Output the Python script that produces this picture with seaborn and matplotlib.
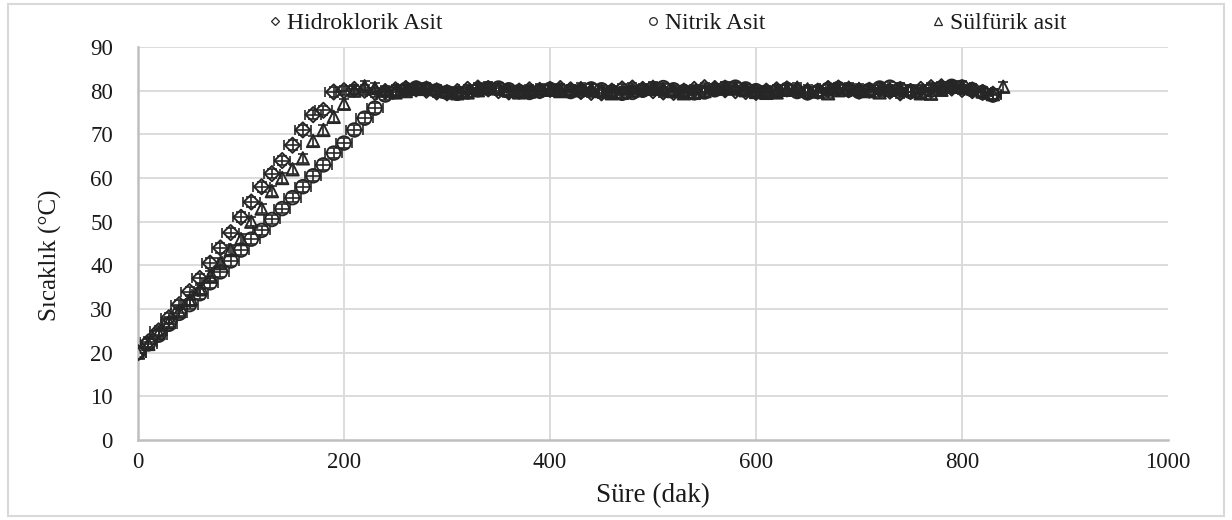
import numpy as np
import pandas as pd
import matplotlib
matplotlib.use("Agg")
import matplotlib.pyplot as plt
from matplotlib.lines import Line2D
from matplotlib.patches import Rectangle
import seaborn as sns

# Sampling times (dak), one reading every 10 minutes
sure_hcl = list(range(0, 840, 10))
sure_nitrik = list(range(0, 840, 10))
sure_sulfurik = list(range(0, 850, 10))

# Temperature readings (°C)
hidroklorik = [
    20, 22.5, 25, 28, 31, 34, 37, 40.5, 44, 47.5,
    51, 54.5, 58, 61, 64, 67.5, 71, 74.5, 75.5, 79.7,
    80.0, 80.3, 80.1, 79.6, 79.8, 80.2, 80.5, 80.4, 80.1, 79.7,
    79.5, 79.8, 80.3, 80.6, 80.4, 80.0, 79.7, 79.9, 80.2, 80.0,
    80.3, 80.5, 80.2, 79.8, 79.6, 79.5, 79.9, 80.4, 80.6, 80.3,
    80.0, 79.7, 79.6, 79.9, 80.3, 80.7, 80.5, 80.2, 80.0, 79.8,
    79.6, 79.9, 80.2, 80.4, 80.1, 79.7, 79.9, 80.5, 80.6, 80.2,
    79.9, 80.1, 80.3, 79.9, 79.5, 79.8, 80.3, 80.7, 80.9, 80.6,
    80.3, 80.0, 79.6, 79.2,
]
nitrik = [
    20, 22, 24, 26.5, 29, 31, 33.5, 36, 38.5, 41,
    43.5, 46, 48, 50.5, 53, 55.5, 58, 60.5, 63, 65.7,
    68, 71, 73.7, 76, 79,
    79.8, 80.3, 80.6, 80.4, 80.0, 79.6, 79.4, 79.7, 80.2, 80.5,
    80.6, 80.2, 79.8, 79.6, 79.9, 80.3, 80.1, 79.8, 80.0, 80.4,
    80.2, 79.7, 79.4, 79.6, 80.1, 80.5, 80.7, 80.2, 79.8, 79.5,
    79.7, 80.2, 80.6, 80.8, 80.4, 80.0, 79.7, 79.9, 80.3, 79.8,
    79.5, 79.8, 80.3, 80.5, 80.2, 79.8, 80.1, 80.6, 80.8, 80.3,
    79.8, 79.6, 80.1, 80.6, 81.0, 80.8, 80.2, 79.6, 79.0,
]
sulfurik = [
    20, 22, 24.5, 27, 29.5, 32, 34.5, 37.5, 40.5, 43.5,
    46, 50, 53, 57, 60, 62, 64.5, 68.5, 71, 74, 77,
    80.0, 81.0, 80.6, 80.0, 79.6, 79.9, 80.4, 80.7, 80.3, 79.8,
    79.4, 79.6, 80.1, 80.8, 80.5, 80.0, 79.6, 79.8, 80.4, 80.2,
    79.9, 80.1, 80.6, 80.4, 79.9, 79.4, 79.5, 80.0, 80.5, 80.9,
    80.4, 79.9, 79.4, 79.5, 79.9, 80.5, 80.9, 80.6, 80.1, 79.7,
    79.5, 79.6, 80.2, 80.7, 80.3, 79.8, 79.4, 80.1, 80.7, 80.4,
    79.9, 79.6, 80.2, 80.6, 80.1, 79.4, 79.3, 80.2, 80.9, 81.0,
    80.5, 79.8, 79.2, 80.9,
]

# Measurement uncertainty (°C for y, dak for x)
hata_y = 1.1
hata_x = 8

etiketler = ["Hidroklorik Asit", "Nitrik Asit", "Sülfürik asit"]
x_ticks = [0, 200, 400, 600, 800, 1000]
y_ticks = [0, 10, 20, 30, 40, 50, 60, 70, 80, 90]

sns.set_theme(style="whitegrid")
plt.rcParams["font.family"] = ["Liberation Serif", "DejaVu Serif"]

W, H = 1232, 520
fig = plt.figure(figsize=(W / 100, H / 100), dpi=100)
ax = fig.add_axes([138 / W, 80 / H, 1030 / W, 393 / H])

ink = "#262626"
seriler = [
    (sure_hcl, hidroklorik, "D", 60, hata_x),
    (sure_nitrik, nitrik, "o", 95, hata_x),
    (sure_sulfurik, sulfurik, "^", 80, None),
]

for (t, v, mk, sz, xe), lab in zip(seriler, etiketler):
    ax.errorbar(t, v, yerr=hata_y, xerr=xe, fmt="none", ecolor=ink,
                elinewidth=1.2, capsize=3.5, capthick=1.2, zorder=2)
    df = pd.DataFrame({"Süre": t, "Sıcaklık": v})
    sns.scatterplot(data=df, x="Süre", y="Sıcaklık", marker=mk, s=sz,
                    facecolor="none", edgecolor=ink, linewidth=1.4,
                    ax=ax, zorder=3, legend=False)

ax.set_xlim(0, 1000)
ax.set_ylim(0, 90)
ax.set_xticks(x_ticks)
ax.set_yticks(y_ticks)
ax.grid(True, color="#d9d9d9", linewidth=1.3)
ax.xaxis.get_gridlines()[-1].set_visible(False)
ax.xaxis.get_gridlines()[0].set_visible(False)
ax.yaxis.get_gridlines()[0].set_visible(False)
for side in ["top", "right"]:
    ax.spines[side].set_visible(False)
for side in ["left", "bottom"]:
    ax.spines[side].set_color("#bfbfbf")
    ax.spines[side].set_linewidth(1.8)

ax.tick_params(axis="both", length=0, labelsize=16.5, colors="#1a1a1a")
ax.tick_params(axis="x", pad=9)
ax.tick_params(axis="y", pad=18)

ax.set_xlabel("Süre (dak)", fontsize=19.5, color="#1a1a1a")
ax.set_ylabel("Sıcaklık (°C)", fontsize=18, color="#1a1a1a")
ax.xaxis.set_label_coords(0.5, -0.11)
ax.yaxis.set_label_coords(-0.074, 0.47)

# Legend entries across the top
leg_x = [274, 652, 937]
leg_marks = ["D", "o", "^"]
for xm, mk, lab in zip(leg_x, leg_marks, etiketler):
    h = Line2D([], [], linestyle="none", marker=mk, markersize=5.5 if mk != "D" else 4.5,
               markerfacecolor="none", markeredgecolor=ink, markeredgewidth=0.9)
    lg = fig.legend(handles=[h], labels=[lab], loc="center left",
                    bbox_to_anchor=((xm - 6) / W, 1 - 23 / H),
                    frameon=False, fontsize=17, handlelength=0.6,
                    handletextpad=0.2, borderpad=0, borderaxespad=0)
    for txt in lg.get_texts():
        txt.set_color("#1a1a1a")

# Chart border
fig.add_artist(Rectangle((8 / W, 4 / H), 1216 / W, 512 / H, transform=fig.transFigure,
                         fill=False, edgecolor="#d9d9d9", linewidth=1.5))

fig.savefig("out.png", dpi=100, facecolor="white")
